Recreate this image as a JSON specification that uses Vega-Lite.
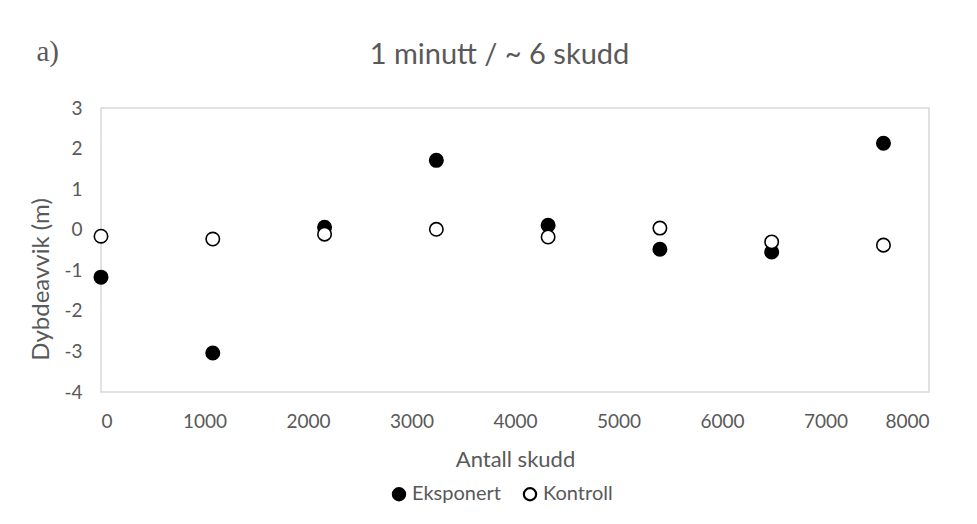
{
  "$schema": "https://vega.github.io/schema/vega-lite/v6.json",
  "width": 828,
  "height": 284,
  "autosize": {"type": "none"},
  "padding": {"left": 101, "top": 108, "right": 48, "bottom": 132},
  "background": "white",
  "config": {
    "font": "Lato",
    "view": {"stroke": "#d9d9d9", "strokeWidth": 1.5},
    "axis": {"labelColor": "#595959", "titleColor": "#595959", "labelFont": "Lato", "titleFont": "Lato", "titleFontWeight": "normal", "domain": false, "ticks": false, "grid": false}
  },
  "data": {
    "values": [
      {"skudd": 0, "avvik": -1.17, "serie": "Eksponert"},
      {"skudd": 1080, "avvik": -3.04, "serie": "Eksponert"},
      {"skudd": 2160, "avvik": 0.06, "serie": "Eksponert"},
      {"skudd": 3240, "avvik": 1.71, "serie": "Eksponert"},
      {"skudd": 4320, "avvik": 0.11, "serie": "Eksponert"},
      {"skudd": 5400, "avvik": -0.48, "serie": "Eksponert"},
      {"skudd": 6480, "avvik": -0.55, "serie": "Eksponert"},
      {"skudd": 7560, "avvik": 2.13, "serie": "Eksponert"},
      {"skudd": 0, "avvik": -0.16, "serie": "Kontroll"},
      {"skudd": 1080, "avvik": -0.23, "serie": "Kontroll"},
      {"skudd": 2160, "avvik": -0.11, "serie": "Kontroll"},
      {"skudd": 3240, "avvik": 0.01, "serie": "Kontroll"},
      {"skudd": 4320, "avvik": -0.18, "serie": "Kontroll"},
      {"skudd": 5400, "avvik": 0.04, "serie": "Kontroll"},
      {"skudd": 6480, "avvik": -0.3, "serie": "Kontroll"},
      {"skudd": 7560, "avvik": -0.38, "serie": "Kontroll"}
    ]
  },
  "layer": [
    {
      "mark": {"type": "rule", "color": "#bfbfbf", "strokeWidth": 1.5},
      "encoding": {
        "y": {"datum": 0, "type": "quantitative", "axis": {"orient": "right", "labels": false, "title": "a)", "titleFont": "Liberation Serif", "titleFontSize": 29, "titleAlign": "left", "titleBaseline": "alphabetic", "titleAnchor": null, "titleX": -893, "titleY": -48, "titleAngle": 0}},
        "x": {"datum": 0, "type": "quantitative", "axis": {"orient": "top", "labels": false, "title": "1 minutt / ~ 6 skudd", "titleFontSize": 29, "titleAlign": "center", "titleBaseline": "alphabetic", "titleAnchor": null, "titleX": 398, "titleY": -45}}
      }
    },
    {
      "mark": {"type": "point", "filled": true, "size": 180, "stroke": "black", "strokeWidth": 1.6, "opacity": 1, "shape": "circle"},
      "encoding": {
        "x": {"field": "skudd", "type": "quantitative", "scale": {"domain": [0, 8000], "nice": false, "zero": false}, "axis": {"orient": "bottom", "title": "Antall skudd", "values": [0,1000,2000,3000,4000,5000,6000,7000,8000], "labelExpr": "toString(datum.value)", "labelFontSize": 19, "labelPadding": 20, "titleFontSize": 22, "titleBaseline": "alphabetic", "titleY": 74}},
        "y": {"field": "avvik", "type": "quantitative", "scale": {"domain": [-4, 3], "nice": false}, "axis": {"orient": "left", "title": "Dybdeavvik (m)", "values": [-4,-3,-2,-1,0,1,2,3], "labelExpr": "toString(datum.value)", "labelFontSize": 19, "labelPadding": 19, "titleFontSize": 24, "titleBaseline": "alphabetic", "titleX": -53, "titleY": 171}},
        "fill": {"field": "serie", "type": "nominal", "scale": {"domain": ["Eksponert", "Kontroll"], "range": ["black", "white"]}, "legend": {"title": null, "orient": "none", "direction": "horizontal", "legendX": 288, "legendY": 376, "labelFontSize": 20, "labelColor": "#595959", "labelFont": "Lato", "symbolSize": 150, "symbolStrokeColor": "black", "symbolStrokeWidth": 2.2, "symbolType": "circle", "symbolOpacity": 1, "columnPadding": 18, "labelOffset": 3}}
      }
    }
  ]
}
